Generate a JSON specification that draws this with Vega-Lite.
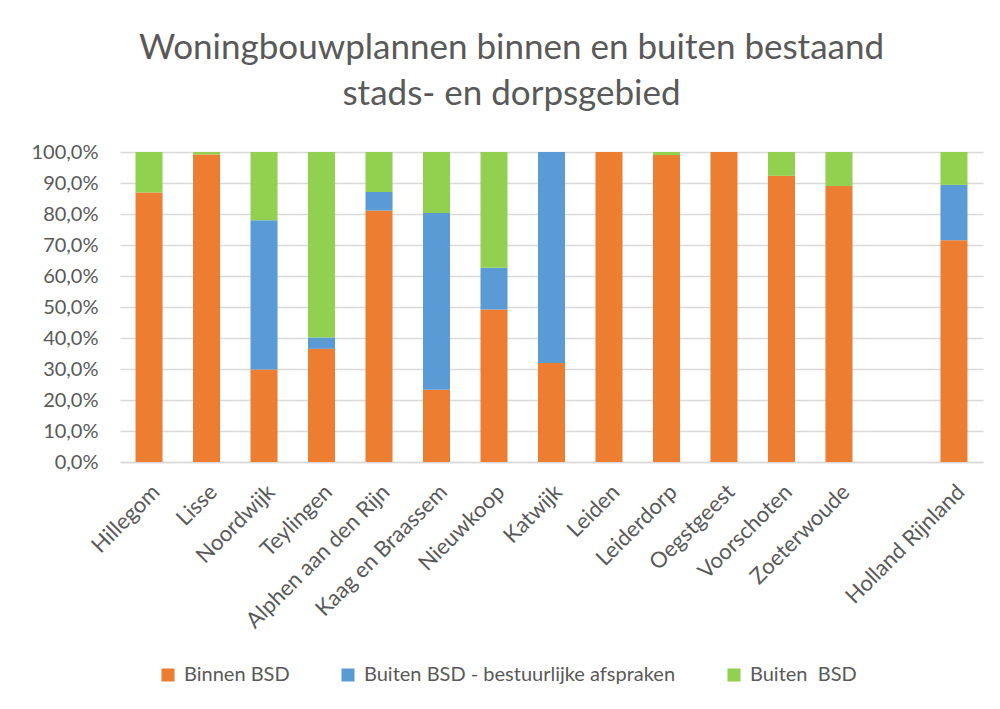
{
  "$schema": "https://vega.github.io/schema/vega-lite/v6.json",
  "autosize": "none",
  "width": 863,
  "height": 310,
  "padding": {"left": 120, "top": 152, "right": 17, "bottom": 247},
  "background": "white",
  "title": {
    "text": ["Woningbouwplannen binnen en buiten bestaand", "stads- en dorpsgebied"],
    "font": "Lato",
    "fontSize": 35,
    "fontWeight": "normal",
    "color": "#595959",
    "anchor": "middle",
    "lineHeight": 46,
    "offset": 30,
    "dx": -40
  },
  "data": {
    "values": [
      {"gemeente": "Hillegom", "serie": "Binnen BSD", "o": 1, "waarde": 0.869},
      {"gemeente": "Hillegom", "serie": "Buiten BSD - bestuurlijke afspraken", "o": 2, "waarde": 0.0},
      {"gemeente": "Hillegom", "serie": "Buiten  BSD", "o": 3, "waarde": 0.131},
      {"gemeente": "Lisse", "serie": "Binnen BSD", "o": 1, "waarde": 0.992},
      {"gemeente": "Lisse", "serie": "Buiten BSD - bestuurlijke afspraken", "o": 2, "waarde": 0.0},
      {"gemeente": "Lisse", "serie": "Buiten  BSD", "o": 3, "waarde": 0.008},
      {"gemeente": "Noordwijk", "serie": "Binnen BSD", "o": 1, "waarde": 0.298},
      {"gemeente": "Noordwijk", "serie": "Buiten BSD - bestuurlijke afspraken", "o": 2, "waarde": 0.482},
      {"gemeente": "Noordwijk", "serie": "Buiten  BSD", "o": 3, "waarde": 0.22},
      {"gemeente": "Teylingen", "serie": "Binnen BSD", "o": 1, "waarde": 0.365},
      {"gemeente": "Teylingen", "serie": "Buiten BSD - bestuurlijke afspraken", "o": 2, "waarde": 0.037},
      {"gemeente": "Teylingen", "serie": "Buiten  BSD", "o": 3, "waarde": 0.598},
      {"gemeente": "Alphen aan den Rijn", "serie": "Binnen BSD", "o": 1, "waarde": 0.811},
      {"gemeente": "Alphen aan den Rijn", "serie": "Buiten BSD - bestuurlijke afspraken", "o": 2, "waarde": 0.06},
      {"gemeente": "Alphen aan den Rijn", "serie": "Buiten  BSD", "o": 3, "waarde": 0.129},
      {"gemeente": "Kaag en Braassem", "serie": "Binnen BSD", "o": 1, "waarde": 0.233},
      {"gemeente": "Kaag en Braassem", "serie": "Buiten BSD - bestuurlijke afspraken", "o": 2, "waarde": 0.57},
      {"gemeente": "Kaag en Braassem", "serie": "Buiten  BSD", "o": 3, "waarde": 0.197},
      {"gemeente": "Nieuwkoop", "serie": "Binnen BSD", "o": 1, "waarde": 0.492},
      {"gemeente": "Nieuwkoop", "serie": "Buiten BSD - bestuurlijke afspraken", "o": 2, "waarde": 0.135},
      {"gemeente": "Nieuwkoop", "serie": "Buiten  BSD", "o": 3, "waarde": 0.373},
      {"gemeente": "Katwijk", "serie": "Binnen BSD", "o": 1, "waarde": 0.319},
      {"gemeente": "Katwijk", "serie": "Buiten BSD - bestuurlijke afspraken", "o": 2, "waarde": 0.681},
      {"gemeente": "Katwijk", "serie": "Buiten  BSD", "o": 3, "waarde": 0.0},
      {"gemeente": "Leiden", "serie": "Binnen BSD", "o": 1, "waarde": 1.0},
      {"gemeente": "Leiden", "serie": "Buiten BSD - bestuurlijke afspraken", "o": 2, "waarde": 0.0},
      {"gemeente": "Leiden", "serie": "Buiten  BSD", "o": 3, "waarde": 0.0},
      {"gemeente": "Leiderdorp", "serie": "Binnen BSD", "o": 1, "waarde": 0.99},
      {"gemeente": "Leiderdorp", "serie": "Buiten BSD - bestuurlijke afspraken", "o": 2, "waarde": 0.0},
      {"gemeente": "Leiderdorp", "serie": "Buiten  BSD", "o": 3, "waarde": 0.01},
      {"gemeente": "Oegstgeest", "serie": "Binnen BSD", "o": 1, "waarde": 1.0},
      {"gemeente": "Oegstgeest", "serie": "Buiten BSD - bestuurlijke afspraken", "o": 2, "waarde": 0.0},
      {"gemeente": "Oegstgeest", "serie": "Buiten  BSD", "o": 3, "waarde": 0.0},
      {"gemeente": "Voorschoten", "serie": "Binnen BSD", "o": 1, "waarde": 0.923},
      {"gemeente": "Voorschoten", "serie": "Buiten BSD - bestuurlijke afspraken", "o": 2, "waarde": 0.0},
      {"gemeente": "Voorschoten", "serie": "Buiten  BSD", "o": 3, "waarde": 0.077},
      {"gemeente": "Zoeterwoude", "serie": "Binnen BSD", "o": 1, "waarde": 0.89},
      {"gemeente": "Zoeterwoude", "serie": "Buiten BSD - bestuurlijke afspraken", "o": 2, "waarde": 0.0},
      {"gemeente": "Zoeterwoude", "serie": "Buiten  BSD", "o": 3, "waarde": 0.11},
      {"gemeente": "Holland Rijnland", "serie": "Binnen BSD", "o": 1, "waarde": 0.715},
      {"gemeente": "Holland Rijnland", "serie": "Buiten BSD - bestuurlijke afspraken", "o": 2, "waarde": 0.179},
      {"gemeente": "Holland Rijnland", "serie": "Buiten  BSD", "o": 3, "waarde": 0.106}
    ]
  },
  "mark": {"type": "bar"},
  "encoding": {
    "x": {
      "field": "gemeente",
      "type": "nominal",
      "scale": {
        "domain": ["Hillegom", "Lisse", "Noordwijk", "Teylingen", "Alphen aan den Rijn", "Kaag en Braassem", "Nieuwkoop", "Katwijk", "Leiden", "Leiderdorp", "Oegstgeest", "Voorschoten", "Zoeterwoude", " ", "Holland Rijnland"],
        "paddingInner": 0.53,
        "paddingOuter": 0.27
      },
      "axis": {
        "title": null,
        "labelAngle": -45,
        "labelFont": "Lato",
        "labelFontSize": 22,
        "labelColor": "#595959",
        "labelPadding": 19,
        "labelDx": -4,
        "labelLimit": 400,
        "ticks": false,
        "domainColor": "#d9d9d9",
        "domainWidth": 1.5
      }
    },
    "y": {
      "field": "waarde",
      "type": "quantitative",
      "stack": "zero",
      "scale": {"domain": [0, 1]},
      "axis": {
        "title": null,
        "values": [0, 0.1, 0.2, 0.3, 0.4, 0.5, 0.6, 0.7, 0.8, 0.9, 1.0],
        "labelExpr": "replace(format(datum.value, '.1%'), '.', ',')",
        "labelFont": "Lato",
        "labelFontSize": 20,
        "labelColor": "#595959",
        "labelPadding": 22,
        "ticks": false,
        "domain": false,
        "gridColor": "#d9d9d9",
        "gridWidth": 1.5
      }
    },
    "color": {
      "field": "serie",
      "type": "nominal",
      "scale": {
        "domain": ["Binnen BSD", "Buiten BSD - bestuurlijke afspraken", "Buiten  BSD"],
        "range": ["#ED7D31", "#5B9BD5", "#92D050"]
      },
      "legend": {
        "title": null,
        "orient": "none",
        "legendX": 38,
        "legendY": 513,
        "direction": "horizontal",
        "symbolType": "square",
        "symbolSize": 170,
        "symbolStrokeWidth": 0,
        "labelFont": "Lato",
        "labelFontSize": 20,
        "labelColor": "#595959",
        "labelLimit": 500,
        "labelOffset": 6,
        "labelExpr": "replace(datum.label, '  ', '\u00a0 ')",
        "columnPadding": 48
      }
    },
    "order": {"field": "o", "type": "quantitative"}
  },
  "config": {
    "view": {"stroke": null}
  }
}
